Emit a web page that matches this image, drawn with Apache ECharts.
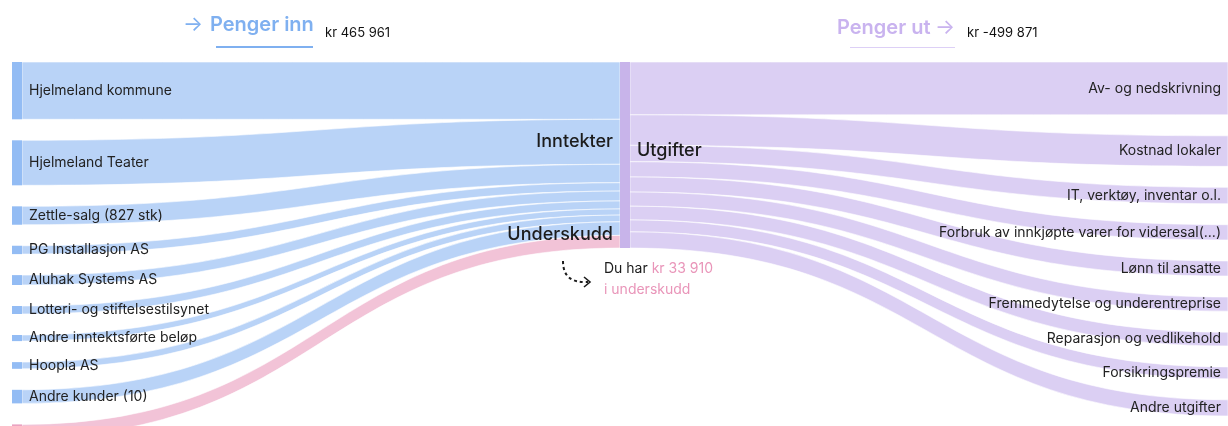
<!DOCTYPE html>
<html>
<head>
<meta charset="utf-8">
<script src="https://cdn.jsdelivr.net/npm/echarts@6/dist/echarts.min.js"></script>
<style>
  html, body { margin: 0; padding: 0; background: #fff; }
  #chart { width: 1228px; height: 426px; }
</style>
</head>
<body>
<div id="chart"></div>
<script>
// inntekter (venstre side)
const incomeNames = ['Hjelmeland kommune', 'Hjelmeland Teater', 'Zettle-salg (827 stk)', 'PG Installasjon AS',
  'Aluhak Systems AS', 'Lotteri- og stiftelsestilsynet', 'Andre inntektsførte beløp', 'Hoopla AS', 'Andre kunder (10)'];
const incomeValues = [154000, 121000, 49500, 22500, 26500, 21500, 16500, 18000, 36461];

// utgifter (høyre side)
const expenseNames = ['Av- og nedskrivning', 'Kostnad lokaler', 'IT, verktøy, inventar o.l.',
  'Forbruk av innkjøpte varer for videresal(...)', 'Lønn til ansatte', 'Fremmedytelse og underentreprise',
  'Reparasjon og vedlikehold', 'Forsikringspremie', 'Andre utgifter'];
const expenseValues = [142000, 82000, 44000, 41000, 40500, 38000, 37000, 32000, 43371];

const deficitName = 'Underskudd';
const deficitValue = 33910;
const middleName = 'Utgifter';
const totalIn = 'kr 465 961';
const totalOut = 'kr -499 871';

const BLUE = '#93bcf4', BLUE_LINK = '#b9d3f7';
const PURPLE = '#c8b4ea', PURPLE_LINK = '#dbcff3';
const PINK = '#eaa3c1', PINK_LINK = '#f2c3d7';
const FONT = 'Inter, "Noto Sans", sans-serif';

const nodes = [];
const links = [];
incomeNames.forEach((n, i) => {
  nodes.push({ name: n, itemStyle: { color: BLUE }, label: { position: 'right' } });
  links.push({ source: n, target: middleName, value: incomeValues[i], lineStyle: { color: BLUE_LINK } });
});
nodes.push({ name: deficitName, itemStyle: { color: PINK }, label: { show: false } });
links.push({ source: deficitName, target: middleName, value: deficitValue, lineStyle: { color: PINK_LINK } });
nodes.push({
  name: middleName, itemStyle: { color: PURPLE },
  label: { position: 'right', fontSize: 18, fontWeight: 500, distance: 7, offset: [0, -4], color: '#1c1c1c' }
});
expenseNames.forEach((n, i) => {
  nodes.push({ name: n, itemStyle: { color: PURPLE }, label: { position: 'left' } });
  links.push({ source: middleName, target: n, value: expenseValues[i], lineStyle: { color: PURPLE_LINK } });
});

const chart = echarts.init(document.getElementById('chart'));
chart.setOption({
  backgroundColor: '#fff',
  animation: false,
  textStyle: { fontFamily: FONT },
  series: [{
    type: 'sankey',
    left: 12, right: -10, top: 62, bottom: -11,
    nodeWidth: 10,
    nodeGap: 21,
    layoutIterations: 0,
    draggable: false,
    emphasis: { disabled: true },
    data: nodes,
    links: links,
    label: { fontSize: 14, color: '#222', distance: 7, fontFamily: FONT },
    lineStyle: { opacity: 1, curveness: 0.5, borderColor: '#fff', borderWidth: 0.6 }
  }],
  graphic: [
    // overskrift venstre
    { type: 'text', z: 100, left: 183, top: 14, style: { text: '→', fontSize: 21, fill: '#7fb0f0', fontFamily: FONT } },
    { type: 'text', z: 100, left: 210, top: 15, style: { text: 'Penger inn', fontSize: 20, fontWeight: 600, fill: '#7fb0f0', fontFamily: FONT } },
    { type: 'rect', z: 100, shape: { x: 216, y: 46, width: 97, height: 2 }, style: { fill: '#7fb0f0' } },
    { type: 'text', z: 100, left: 325, top: 27, style: { text: totalIn, fontSize: 13, fill: '#111', fontFamily: FONT } },
    // overskrift høyre
    { type: 'text', z: 100, left: 837, top: 18, style: { text: 'Penger ut', fontSize: 20, fontWeight: 600, fill: '#c9b3ef', fontFamily: FONT } },
    { type: 'text', z: 100, left: 935, top: 17, style: { text: '→', fontSize: 21, fill: '#c9b3ef', fontFamily: FONT } },
    { type: 'rect', z: 100, shape: { x: 850, y: 47, width: 105, height: 1 }, style: { fill: '#ddd0f6' } },
    { type: 'text', z: 100, left: 967, top: 27, style: { text: totalOut, fontSize: 13, fill: '#111', fontFamily: FONT } },
    // etiketter midten
    { type: 'text', z: 100, right: 615, top: 133, style: { text: 'Inntekter', fontSize: 18, fontWeight: 500, fill: '#1c1c1c', fontFamily: FONT } },
    { type: 'text', z: 100, right: 615, top: 226, style: { text: 'Underskudd', fontSize: 18, fontWeight: 500, fill: '#1c1c1c', fontFamily: FONT } },
    // underskudd-merknad
    {
      type: 'bezierCurve', z: 100,
      shape: { x1: 563, y1: 261, cpx1: 563, cpy1: 277, cpx2: 572, cpy2: 283, x2: 588, y2: 282 },
      style: { stroke: '#1c1c1c', lineWidth: 2, lineDash: [3, 3], fill: null }
    },
    {
      type: 'polyline', z: 100,
      shape: { points: [[584, 277], [590, 282], [584, 287]] },
      style: { stroke: '#1c1c1c', lineWidth: 1.6, fill: null }
    },
    {
      type: 'text', z: 100, left: 604, top: 262,
      style: {
        text: '{a|Du har }{b|kr 33 910}\n{b|i underskudd}',
        fontFamily: FONT,
        rich: {
          a: { fontSize: 14, fill: '#1c1c1c', lineHeight: 21, fontFamily: FONT },
          b: { fontSize: 14, fill: '#e995b9', lineHeight: 21, fontFamily: FONT }
        }
      }
    }
  ]
});
</script>
</body>
</html>
